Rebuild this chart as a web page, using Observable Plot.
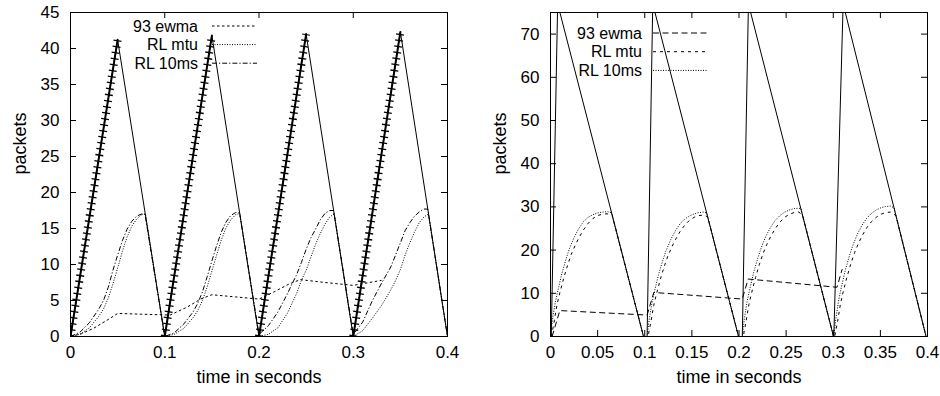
<!DOCTYPE html>
<html><head><meta charset="utf-8">
<script src="https://cdn.jsdelivr.net/npm/d3@7"></script>
<script src="https://cdn.jsdelivr.net/npm/@observablehq/plot@0.6"></script>
<style>
body{margin:0;background:#fff;}
#wrap{display:flex;width:940px;height:396px;overflow:hidden;}
#wrap svg{font-family:"Liberation Sans",Arial,Helvetica,sans-serif;background:#fff;}
</style></head><body><div id="wrap"></div>
<script>
// ---------- LEFT PANEL DATA ----------
const lXTicks = [0, 0.1, 0.2, 0.3, 0.4];
const lYTicks = [0, 5, 10, 15, 20, 25, 30, 35, 40, 45];
const lQueueT = [0, 0.05, 0.1, 0.15, 0.2, 0.25, 0.3, 0.35, 0.4];
const lQueueV = [0, 41.2, 0, 41.8, 0, 42.0, 0, 42.3, 0];
const lEwmaT = [0, 0.012, 0.024, 0.038, 0.05, 0.075, 0.099, 0.106, 0.124, 0.138, 0.15, 0.175, 0.2, 0.216, 0.232, 0.244, 0.27, 0.3, 0.33];
const lEwmaV = [0, 0.4, 1.1, 2.2, 3.2, 3.1, 3.0, 3.0, 4.1, 5.2, 5.8, 5.5, 5.2, 6.2, 7.3, 7.9, 7.5, 7.1, 7.8];
const lMtuT = [0, 0.01, 0.02, 0.03, 0.035, 0.04, 0.045, 0.05, 0.055, 0.06, 0.065, 0.07, 0.075, 0.0795,
  0.1, 0.11, 0.12, 0.13, 0.135, 0.14, 0.145, 0.15, 0.155, 0.16, 0.165, 0.17, 0.175, 0.1795,
  0.2, 0.21, 0.22, 0.23, 0.24, 0.245, 0.25, 0.255, 0.26, 0.265, 0.27, 0.275, 0.2797,
  0.3, 0.31, 0.32, 0.33, 0.34, 0.345, 0.35, 0.355, 0.36, 0.365, 0.37, 0.375, 0.3797, 0.4];
const lMtuV = [0, 0.3, 1.2, 2.8, 3.8, 5.3, 7.3, 9.5, 11.8, 13.8, 15.3, 16.3, 16.9, 17.0,
  0, 0.3, 1.1, 2.6, 3.6, 5.0, 6.9, 9.1, 11.3, 13.4, 15.1, 16.2, 16.9, 17.1,
  0, 0.3, 1.2, 3.2, 6.0, 7.8, 9.2, 11.0, 12.8, 14.3, 15.6, 16.6, 17.0,
  0, 0.8, 2.5, 4.3, 6.5, 7.8, 9.3, 11.3, 13.0, 14.5, 15.8, 16.6, 17.0, 0];
const l10msT = [0, 0.01, 0.02, 0.03, 0.035, 0.04, 0.045, 0.05, 0.055, 0.06, 0.065, 0.07, 0.075, 0.079,
  0.1, 0.11, 0.12, 0.13, 0.135, 0.14, 0.145, 0.15, 0.155, 0.16, 0.165, 0.17, 0.175, 0.1794,
  0.2, 0.21, 0.22, 0.23, 0.235, 0.24, 0.245, 0.25, 0.255, 0.26, 0.265, 0.27, 0.275, 0.2792,
  0.3, 0.31, 0.32, 0.33, 0.34, 0.35, 0.355, 0.36, 0.365, 0.37, 0.375, 0.3791, 0.4];
const l10msV = [0, 0.6, 1.9, 3.8, 5.0, 6.8, 9.2, 11.3, 13.3, 14.9, 16.0, 16.7, 17.0, 17.0,
  0, 0.5, 1.7, 3.4, 4.6, 6.2, 8.3, 10.5, 12.6, 14.5, 15.9, 16.8, 17.2, 17.2,
  0.3, 1.5, 3.4, 5.9, 7.3, 8.6, 10.3, 12.1, 13.7, 14.9, 16.2, 17.1, 17.5, 17.5,
  0.3, 2.0, 4.9, 7.4, 9.7, 13.0, 14.7, 15.8, 16.7, 17.3, 17.7, 17.7, 0];

// ---------- RIGHT PANEL DATA ----------
const rXTicks = [0, 0.05, 0.1, 0.15, 0.2, 0.25, 0.3, 0.35, 0.4];
const rYTicks = [0, 10, 20, 30, 40, 50, 60, 70];
const rQueueT = [0.0008, 0.0076, 0.0987, 0.1025, 0.1085, 0.1995, 0.2035, 0.2100, 0.3003, 0.3006, 0.3105, 0.3985];
const rQueueV = [0, 77, 0, 0, 77, 0, 0, 77, 0, 0, 77, 0];
const rEwmaT = [0.0017, 0.0099, 0.099, 0.1026, 0.1096, 0.2016, 0.2035, 0.2097, 0.304, 0.3095];
const rEwmaV = [0, 6.0, 5.0, 5.0, 10.2, 8.7, 8.7, 13.3, 11.4, 15.6];
const rMtuT = [0.001, 0.004, 0.007, 0.010, 0.014, 0.018, 0.022, 0.026, 0.030, 0.035, 0.040, 0.045, 0.050, 0.055, 0.060, 0.0655, 0.0987,
  0.1035, 0.1065, 0.1095, 0.1125, 0.1165, 0.1205, 0.1245, 0.1285, 0.1325, 0.1375, 0.1425, 0.1475, 0.1525, 0.1575, 0.1625, 0.1668, 0.1995,
  0.2045, 0.2075, 0.2105, 0.2135, 0.2175, 0.2215, 0.2255, 0.2295, 0.2335, 0.2385, 0.2435, 0.2485, 0.2535, 0.2585, 0.2635, 0.2675, 0.3003,
  0.3016, 0.3046, 0.3076, 0.3106, 0.3146, 0.3186, 0.3226, 0.3266, 0.3306, 0.3356, 0.3406, 0.3456, 0.3506, 0.3556, 0.3606, 0.3665, 0.3985];
const rMtuV = [0, 3.6, 7.5, 10.2, 13.5, 16.4, 19.0, 21.0, 22.8, 24.7, 26.2, 27.3, 28.0, 28.3, 28.4, 28.1, 0,
  0, 3.4, 7.2, 9.9, 13.2, 16.1, 18.6, 20.6, 22.4, 24.3, 25.8, 26.9, 27.6, 28.0, 28.1, 27.7, 0,
  0, 3.5, 7.4, 10.2, 13.6, 16.6, 19.2, 21.3, 23.1, 25.0, 26.5, 27.6, 28.3, 28.7, 28.8, 28.0, 0,
  0, 3.5, 7.5, 10.4, 13.8, 16.8, 19.4, 21.5, 23.3, 25.2, 26.6, 27.6, 28.3, 28.7, 28.8, 28.0, 0];
const r10msT = [0, 0.002, 0.005, 0.008, 0.012, 0.016, 0.020, 0.025, 0.030, 0.035, 0.040, 0.045, 0.050, 0.055, 0.060, 0.0645, 0.0987,
  0.1025, 0.1045, 0.1075, 0.1105, 0.1145, 0.1185, 0.1225, 0.1275, 0.1325, 0.1375, 0.1425, 0.1475, 0.1525, 0.1575, 0.1625, 0.1657, 0.1995,
  0.2035, 0.2055, 0.2085, 0.2115, 0.2155, 0.2195, 0.2235, 0.2285, 0.2335, 0.2385, 0.2435, 0.2485, 0.2535, 0.2585, 0.2635, 0.2657, 0.3003,
  0.3006, 0.3026, 0.3056, 0.3086, 0.3126, 0.3166, 0.3206, 0.3256, 0.3306, 0.3356, 0.3406, 0.3456, 0.3506, 0.3556, 0.3606, 0.3645, 0.3985];
const r10msV = [0, 3.8, 7.8, 10.8, 14.5, 17.6, 20.3, 22.9, 25.0, 26.6, 27.6, 28.2, 28.6, 28.8, 28.9, 28.7, 0,
  0, 3.6, 7.6, 10.6, 14.2, 17.2, 19.8, 22.4, 24.5, 26.1, 27.2, 27.9, 28.4, 28.7, 28.8, 28.6, 0,
  0, 3.8, 8.0, 11.0, 14.8, 17.8, 20.5, 23.2, 25.3, 26.9, 28.0, 28.8, 29.3, 29.6, 29.7, 29.6, 0,
  0, 3.9, 8.2, 11.4, 15.2, 18.3, 21.0, 23.7, 25.8, 27.4, 28.5, 29.3, 29.8, 30.1, 30.2, 29.8, 0];

const seriesNames = ["93 ewma", "RL mtu", "RL 10ms"];

// ---------- DRAWING ----------
const rows = (T, V) => T.map((t, i) => ({t, v: V[i]}));
const fmt = d3.format("~g");
const FONT = "17px";

function panel(o) {
  const W = 470, H = 396;
  const fw = W - o.ml - o.mr, fh = H - o.mt - o.mb;
  const queue = rows(o.qT, o.qV);
  const ramps = [];
  for (let i = 0; i < o.qT.length - 1; i++) {
    if (o.qV[i + 1] > o.qV[i]) {
      ramps.push({t: o.qT[i], v: o.qV[i], seg: i}, {t: o.qT[i + 1], v: o.qV[i + 1], seg: i});
    }
  }
  const marks = [
    Plot.line(rows(o.eT, o.eV), {x: "t", y: "v", stroke: "#000", strokeWidth: 1, strokeDasharray: o.dash[0], strokeLinecap: "butt", clip: true}),
    Plot.line(rows(o.mT, o.mV), {x: "t", y: "v", stroke: "#000", strokeWidth: 1, strokeDasharray: o.dash[1], strokeLinecap: "butt", clip: true}),
    Plot.line(rows(o.tT, o.tV), {x: "t", y: "v", stroke: "#000", strokeWidth: 1, strokeDasharray: o.dash[2], strokeLinecap: "butt", clip: true}),
    Plot.line(queue, {x: "t", y: "v", stroke: "#000", strokeWidth: 1, clip: true})
  ];
  if (o.markers) {
    marks.push(Plot.line(ramps, {x: "t", y: "v", z: "seg", stroke: "#000", strokeWidth: 2, clip: true}));
    marks.push(Plot.line(ramps, {x: "t", y: "v", z: "seg", stroke: "#000", strokeWidth: 8, strokeDasharray: "1.3,4.8", strokeLinecap: "butt", strokeLinejoin: "miter", clip: true}));
  }
  marks.push(
    Plot.tickX(o.xt, {x: d => d, stroke: "#000", insetTop: fh - 6}),
    Plot.tickX(o.xt, {x: d => d, stroke: "#000", insetBottom: fh - 6}),
    Plot.tickY(o.yt, {y: d => d, stroke: "#000", insetRight: fw - 6}),
    Plot.tickY(o.yt, {y: d => d, stroke: "#000", insetLeft: fw - 6}),
    Plot.frame({stroke: "#000", strokeWidth: 1}),
    Plot.text(["packets"], {text: d => d, frameAnchor: "left", dx: -50, rotate: -90, fontSize: 18, fill: "#000"}),
    Plot.text(["time in seconds"], {text: d => d, frameAnchor: "bottom", dy: 46, fontSize: 18, fill: "#000"})
  );
  const svg = Plot.plot({
    width: W, height: H,
    marginLeft: o.ml, marginRight: o.mr, marginTop: o.mt, marginBottom: o.mb,
    style: {fontSize: FONT, fontFamily: "'Liberation Sans', Arial, Helvetica, sans-serif", color: "#000", background: "#fff", overflow: "visible"},
    x: {domain: o.xd, ticks: o.xt, tickSize: 0, tickPadding: 9, tickFormat: fmt, label: null},
    y: {domain: o.yd, ticks: o.yt, tickSize: 0, tickPadding: 11, tickFormat: fmt, label: null},
    marks
  });
  // legend (key like gnuplot, top-left inside)
  const g = d3.select(svg).append("g").attr("font-size", "16px").attr("fill", "#000");
  seriesNames.forEach((name, i) => {
    const y = o.leg.y0 + i * o.leg.dy;
    g.append("text").attr("x", o.leg.tx).attr("y", y).attr("dy", "0.35em").attr("text-anchor", "end").text(name);
    g.append("line").attr("x1", o.leg.l1).attr("x2", o.leg.l2).attr("y1", y).attr("y2", y)
      .attr("stroke", "#000").attr("stroke-width", 1).attr("stroke-dasharray", o.dash[i]);
  });
  return svg;
}

const wrap = document.getElementById("wrap");
wrap.appendChild(panel({
  ml: 70, mr: 23, mt: 12, mb: 60,
  xd: [0, 0.4], yd: [0, 45], xt: lXTicks, yt: lYTicks,
  qT: lQueueT, qV: lQueueV, eT: lEwmaT, eV: lEwmaV, mT: lMtuT, mV: lMtuV, tT: l10msT, tV: l10msV,
  dash: ["2.5,2.5", "1,1.5", "5,2,1.2,2"], markers: true,
  leg: {tx: 198, l1: 212, l2: 257, y0: 26, dy: 18.6}
}));
wrap.appendChild(panel({
  ml: 80, mr: 13, mt: 12, mb: 60,
  xd: [0, 0.4], yd: [0, 75], xt: rXTicks, yt: rYTicks,
  qT: rQueueT, qV: rQueueV, eT: rEwmaT, eV: rEwmaV, mT: rMtuT, mV: rMtuV, tT: r10msT, tV: r10msV,
  dash: ["6,3.5", "3,4", "1,1.5"], markers: false,
  leg: {tx: 172, l1: 183, l2: 237, y0: 33, dy: 18.7}
}));
</script>
</body></html>
